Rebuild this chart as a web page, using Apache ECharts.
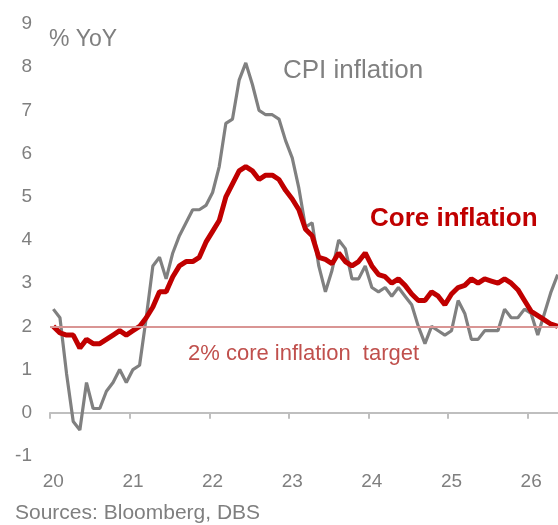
<!DOCTYPE html>
<html>
<head>
<meta charset="utf-8">
<script src="https://cdn.jsdelivr.net/npm/echarts@6/dist/echarts.min.js"></script>
<style>
html,body{margin:0;padding:0;background:#fff;}
#chart{width:558px;height:525px;}
</style>
</head>
<body>
<div id="chart"></div>
<script>
// Monthly, Jan 2020 .. May 2026
const months = [];
for (let y = 2020; y <= 2026; y++) {
  for (let m = 1; m <= 12; m++) {
    if (y === 2026 && m > 5) break;
    months.push(y + '-' + (m < 10 ? '0' + m : m));
  }
}
const cpiInflation = [
  2.4, 2.2, 0.9, -0.2, -0.4, 0.7, 0.1, 0.1, 0.5, 0.7, 1.0, 0.7,
  1.0, 1.1, 2.2, 3.4, 3.6, 3.1, 3.7, 4.1, 4.4, 4.7, 4.7, 4.8,
  5.1, 5.7, 6.7, 6.8, 7.7, 8.1, 7.6, 7.0, 6.9, 6.9, 6.8, 6.3,
  5.9, 5.2, 4.3, 4.4, 3.4, 2.8, 3.3, 4.0, 3.8, 3.1, 3.1, 3.4,
  2.9, 2.8, 2.9, 2.7, 2.9, 2.7, 2.5, 2.0, 1.6, 2.0, 1.9, 1.8,
  1.9, 2.6, 2.3, 1.7, 1.7, 1.9, 1.9, 1.9, 2.4, 2.2, 2.2, 2.4,
  2.3, 1.8, 2.3, 2.8, 3.2
];
const coreInflation = [
  2.0, 1.85, 1.8, 1.8, 1.5, 1.7, 1.6, 1.6, 1.7, 1.8, 1.9, 1.8,
  1.9, 2.0, 2.2, 2.45, 2.8, 2.8, 3.15, 3.4, 3.5, 3.5, 3.6, 3.95,
  4.2, 4.45, 5.0, 5.3, 5.6, 5.7, 5.6, 5.4, 5.5, 5.5, 5.4, 5.15,
  4.95, 4.7, 4.25, 4.1, 3.6, 3.55, 3.45, 3.7, 3.5, 3.4, 3.5, 3.7,
  3.4, 3.2, 3.15, 3.0, 3.1, 2.95, 2.75, 2.6, 2.6, 2.8, 2.7, 2.5,
  2.75, 2.9, 2.95, 3.1, 3.0, 3.1, 3.05, 3.0, 3.1, 3.0, 2.85, 2.6,
  2.35, 2.25, 2.15, 2.05, 2.0
];
const coreTarget = 2;
const yMin = -1, yMax = 9, yStep = 1;

const chart = echarts.init(document.getElementById('chart'), null, {renderer: 'canvas'});
const FONT = '"Liberation Sans", Arial, sans-serif';
chart.setOption({
  animation: false,
  backgroundColor: '#ffffff',
  grid: {left: 50, right: -3, top: 24, bottom: 69, containLabel: false, outerBoundsMode: 'none'},
  xAxis: {
    type: 'category',
    data: months,
    boundaryGap: true,
    axisLine: {show: true, onZero: true, lineStyle: {color: '#bfbfbf', width: 2}},
    axisTick: {show: true, interval: 11, length: 6, lineStyle: {color: '#bfbfbf', width: 2}},
    axisLabel: {
      interval: 11, margin: 16, color: '#7f7f7f', fontSize: 19, fontFamily: FONT,
      formatter: v => v.slice(2, 4)
    },
    splitLine: {show: false}
  },
  yAxis: {
    type: 'value', min: yMin, max: yMax, interval: yStep,
    axisLine: {show: false}, axisTick: {show: false}, splitLine: {show: false},
    axisLabel: {margin: 18, color: '#7f7f7f', fontSize: 19, fontFamily: FONT, padding: [4, 0, 0, 0]}
  },
  series: [
    {
      name: 'target', type: 'line', data: [], z: 1,
      markLine: {
        silent: true, symbol: 'none', label: {show: false},
        lineStyle: {color: '#d99594', width: 2, type: 'solid'},
        data: [{yAxis: coreTarget}]
      }
    },
    {
      name: 'CPI inflation', type: 'line', data: cpiInflation, z: 2,
      symbol: 'none', lineStyle: {color: '#808080', width: 3.2}
    },
    {
      name: 'Core inflation', type: 'line', data: coreInflation, z: 3,
      symbol: 'none', lineStyle: {color: '#c00000', width: 5}
    }
  ],
  graphic: [
    {type: 'text', left: 49, top: 28, style: {text: '% YoY', font: '23px ' + FONT, fill: '#7f7f7f'}},
    {type: 'text', left: 283, top: 58, style: {text: 'CPI inflation', font: '26px ' + FONT, fill: '#808080'}},
    {type: 'text', left: 370, top: 206, style: {text: 'Core inflation', font: 'bold 26px ' + FONT, fill: '#c00000'}},
    {type: 'text', left: 188, top: 343, style: {text: '2% core inflation  target', font: '22px "Liberation Sans Narrow", "Arial Narrow", ' + FONT, fill: '#c0504d'}},
    {type: 'text', left: 15, top: 503, style: {text: 'Sources: Bloomberg, DBS', font: '21px ' + FONT, fill: '#7f7f7f'}}
  ]
});
</script>
</body>
</html>
